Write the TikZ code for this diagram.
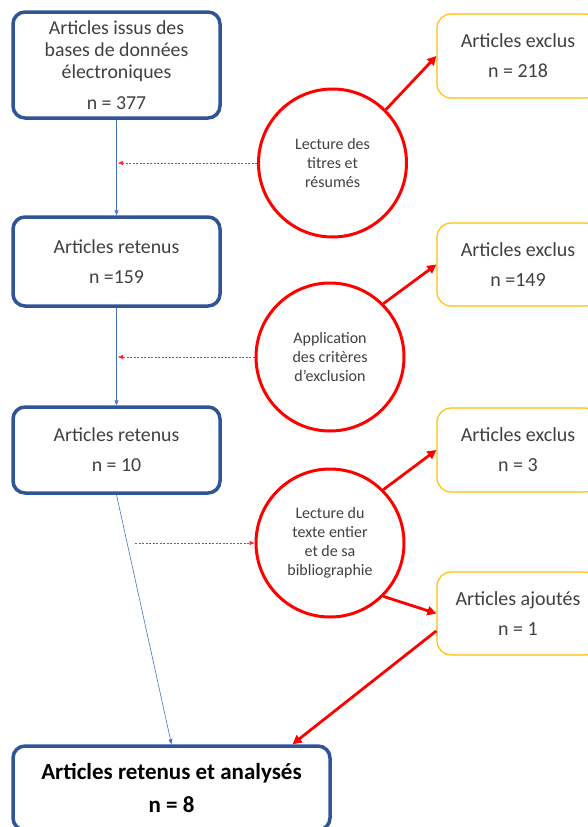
\documentclass[tikz,border=0pt]{standalone}
\usepackage{fontspec}
\setmainfont{Carlito}
\usetikzlibrary{arrows.meta}

\definecolor{boxblue}{HTML}{2F5597}
\definecolor{lineblue}{HTML}{4472C4}
\definecolor{boxgold}{HTML}{FFC000}
\definecolor{textgray}{HTML}{404040}

\begin{document}
\begin{tikzpicture}[x=1pt, y=-1pt,
  retenu/.style={draw=boxblue, line width=3.5pt, rounded corners=12pt, fill=white,
    text=textgray, align=center, minimum width=207pt, font=\fontsize{19.8}{22}\selectfont},
  exclu/.style={draw=boxgold, line width=1.2pt, rounded corners=14pt, fill=white,
    text=textgray, align=center, minimum width=162pt, minimum height=84pt,
    font=\fontsize{20}{22}\selectfont},
  etape/.style={circle, draw=red, line width=3pt, minimum size=148pt, inner sep=0pt,
    text=textgray, align=center, font=\fontsize{16}{19}\selectfont},
  suite/.style={draw=lineblue, line width=0.6pt, -{Triangle[length=5pt,width=4pt]}},
  renvoi/.style={draw=red!85, line width=0.7pt, dash pattern=on 2pt off 1.5pt,
    -{Triangle[length=5pt,width=4pt]}},
  flux/.style={draw=red, line width=2.8pt, -{Triangle[length=9pt,width=9pt]}}
]
\useasboundingbox (0,0) rectangle (588,827);

% colonne de gauche
\node[retenu, minimum height=106pt] (base) at (116.5,65)
  {Articles issus des\\bases de données\\électroniques\\[9pt]n = 377};
\node[retenu, minimum height=89pt] (ret1) at (116.5,261.5) {Articles retenus\\[8pt]n =159};
\node[retenu, minimum height=86pt] (ret2) at (116.5,450) {Articles retenus\\[8pt]n = 10};
\node[retenu, minimum width=317pt, minimum height=84pt, text=black,
  font=\fontsize{23}{24}\selectfont\bfseries] (final) at (171.5,788)
  {Articles retenus et analysés\\[9pt]n = 8};

% etapes de tri
\node[etape] (tri1) at (332.5,163) {Lecture des\\titres et\\résumés};
\node[etape] (tri2) at (330,357) {Application\\des critères\\d’exclusion};
\node[etape] (tri3) at (330,543) {Lecture du\\texte entier\\et de sa\\bibliographie};

% colonne de droite
\node[exclu] (excl1) at (518,56) {Articles exclus\\[8pt]n = 218};
\node[exclu, minimum height=83pt] (excl2) at (518,264.5) {Articles exclus\\[8pt]n =149};
\node[exclu] (excl3) at (518,450) {Articles exclus\\[8pt]n = 3};
\node[exclu, minimum height=83pt] (ajout) at (518,613.5) {Articles ajoutés\\[8pt]n = 1};

\draw[suite] (base) -- (ret1);
\draw[suite] (ret1) -- (ret2);
\draw[suite] (ret2.south) -- (final.north);

\coordinate (r1) at (118,163);
\coordinate (r2) at (118,357);
\coordinate (r3) at (135,543);
\draw[renvoi] (tri1.west) -- (r1);
\draw[renvoi] (tri2.west) -- (r2);
\draw[renvoi] (r3) -- (tri3.west);

\draw[flux] (tri1.45) -- (excl1.west);
\draw[flux] (tri2.45) -- (excl2.west);
\draw[flux] (tri3.45) -- (excl3.west);
\draw[flux] (tri3.-45) -- (ajout.west);
\draw[flux] (ajout.192) -- ([xshift=121pt]final.north);

\end{tikzpicture}
\end{document}
